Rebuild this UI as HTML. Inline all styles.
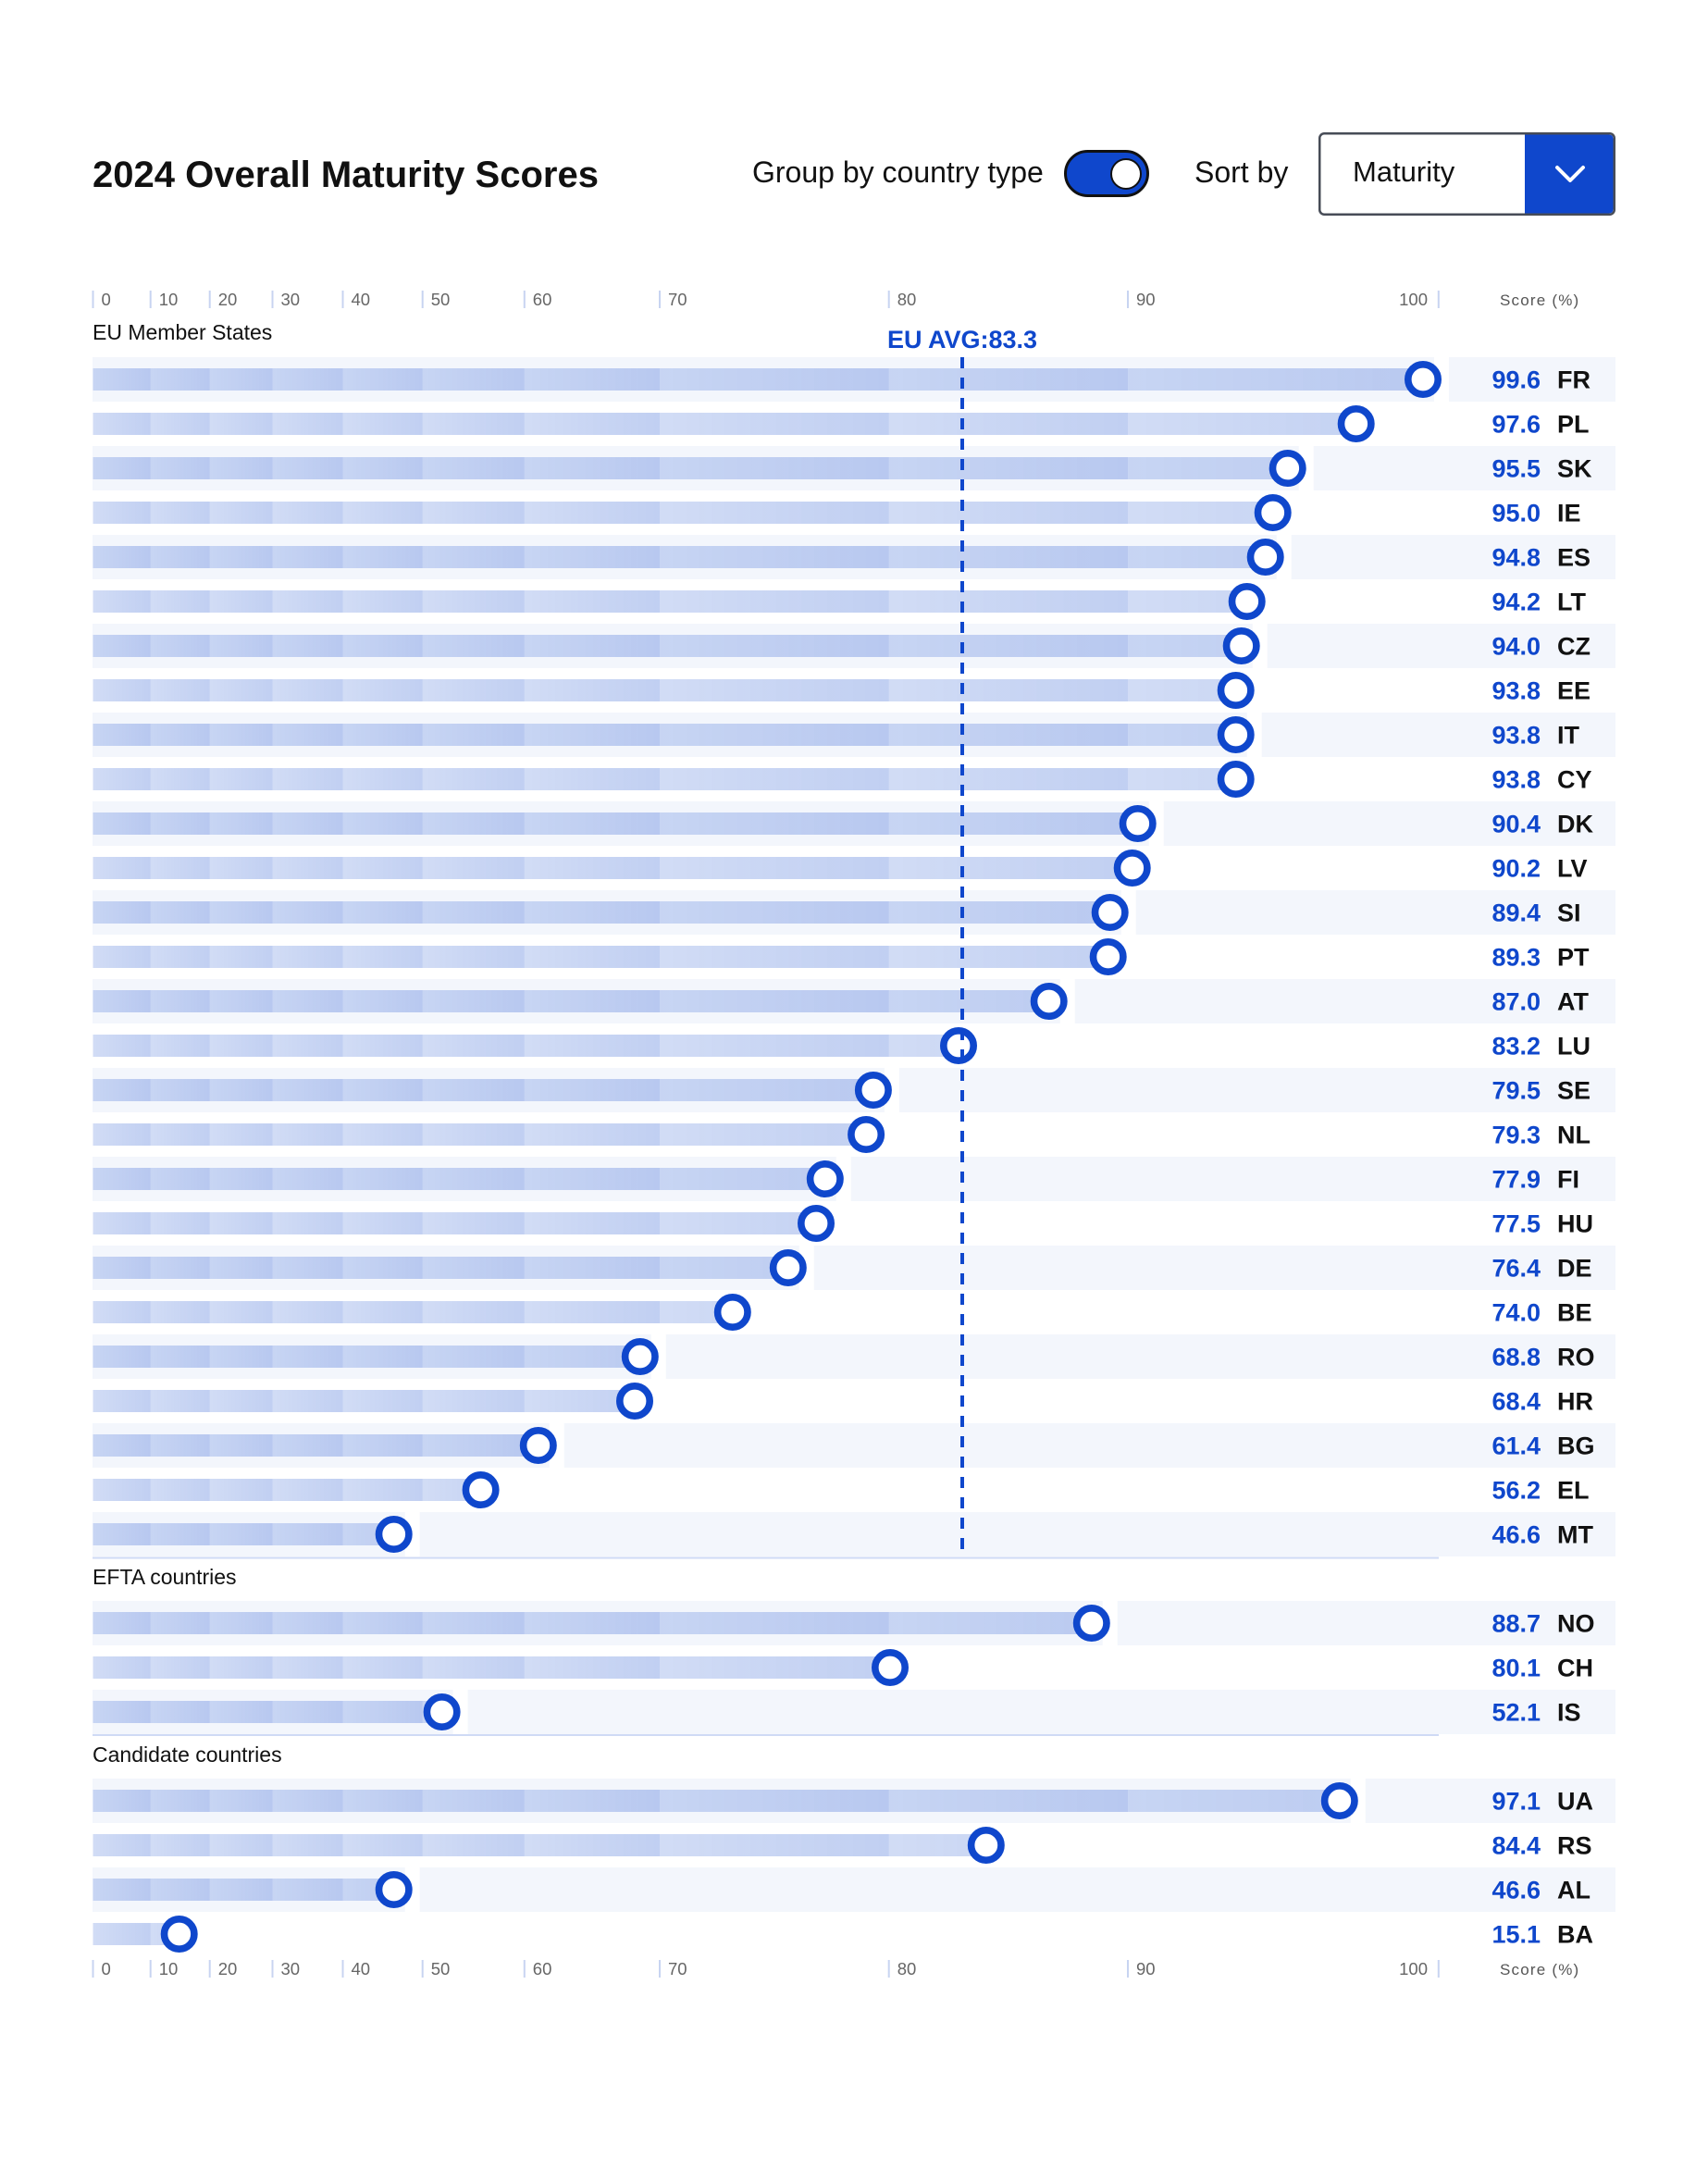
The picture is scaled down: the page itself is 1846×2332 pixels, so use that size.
<!DOCTYPE html>
<html>
<head>
<meta charset="utf-8">
<style>
  html,body{margin:0;padding:0;background:#fff;}
  svg{display:block;}
  text{font-family:"Liberation Sans", Arial, sans-serif;}
  .bg{fill:rgba(15,71,204,0.05);}
  .dot{fill:#fff;stroke:#0f47cc;stroke-width:7.6;}
  .v{font-size:27px;font-weight:bold;fill:#0f47cc;text-anchor:end;}
  .c{font-size:27px;font-weight:bold;fill:#111;}
  .tk{stroke:#c8d4f1;stroke-width:2;}
  .tl{font-size:18.5px;fill:#666;}
  .grp{font-size:23px;fill:#111;}
  .sc{font-size:17px;fill:#555;letter-spacing:1.2px;}
</style>
</head>
<body>
<svg width="1846" height="2332" viewBox="0 0 1846 2332" xmlns="http://www.w3.org/2000/svg">
<defs>
  <linearGradient id="sg" x1="0" y1="0" x2="1" y2="0">
    <stop offset="0" stop-color="rgb(15,71,204)" stop-opacity="0.19"/>
    <stop offset="1" stop-color="rgb(15,71,204)" stop-opacity="0.26"/>
  </linearGradient>
  <pattern id="bp" patternUnits="userSpaceOnUse" x="0" y="398" width="1846" height="48">
    <rect x="100.5" y="0" width="62.2" height="24" fill="url(#sg)"/>
    <rect x="162.7" y="0" width="64" height="24" fill="url(#sg)"/>
    <rect x="226.7" y="0" width="67.8" height="24" fill="url(#sg)"/>
    <rect x="294.5" y="0" width="76" height="24" fill="url(#sg)"/>
    <rect x="370.5" y="0" width="86.2" height="24" fill="url(#sg)"/>
    <rect x="456.7" y="0" width="110.1" height="24" fill="url(#sg)"/>
    <rect x="566.8" y="0" width="146.2" height="24" fill="url(#sg)"/>
    <rect x="713" y="0" width="247.7" height="24" fill="url(#sg)"/>
    <rect x="960.7" y="0" width="258.3" height="24" fill="url(#sg)"/>
    <rect x="1219" y="0" width="335.8" height="24" fill="url(#sg)"/>
  </pattern>
</defs>

<!-- Header -->
<text x="100" y="202" font-size="40" font-weight="bold" fill="#111">2024 Overall Maturity Scores</text>
<text x="813" y="197" font-size="32" fill="#111">Group by country type</text>
<rect x="1151.5" y="163.5" width="89" height="48" rx="24" ry="24" fill="#0f47cc" stroke="#111" stroke-width="3"/>
<circle cx="1217" cy="188" r="16" fill="#fff" stroke="#111" stroke-width="2"/>
<text x="1291" y="197" font-size="32" fill="#111">Sort by</text>
<rect x="1426.25" y="144.25" width="318.5" height="87.5" rx="5" ry="5" fill="#fff" stroke="#474c57" stroke-width="2.5"/>
<path d="M1648 145.5 H1739 Q1743.5 145.5 1743.5 150 V226 Q1743.5 230.5 1739 230.5 H1648 Z" fill="#0f47cc"/>
<polyline points="1683,181 1697,195 1711,181" fill="none" stroke="#fff" stroke-width="4" stroke-linecap="round" stroke-linejoin="round"/>
<text x="1462" y="196" font-size="31" fill="#111">Maturity</text>

<!-- Top axis -->
<g>
  <line class="tk" x1="100.5" y1="314" x2="100.5" y2="333"/>
  <line class="tk" x1="162.7" y1="314" x2="162.7" y2="333"/>
  <line class="tk" x1="226.7" y1="314" x2="226.7" y2="333"/>
  <line class="tk" x1="294.5" y1="314" x2="294.5" y2="333"/>
  <line class="tk" x1="370.5" y1="314" x2="370.5" y2="333"/>
  <line class="tk" x1="456.7" y1="314" x2="456.7" y2="333"/>
  <line class="tk" x1="566.8" y1="314" x2="566.8" y2="333"/>
  <line class="tk" x1="713" y1="314" x2="713" y2="333"/>
  <line class="tk" x1="960.7" y1="314" x2="960.7" y2="333"/>
  <line class="tk" x1="1219" y1="314" x2="1219" y2="333"/>
  <line class="tk" x1="1554.8" y1="314" x2="1554.8" y2="333"/>
  <text class="tl" x="109.5" y="330">0</text>
  <text class="tl" x="171.7" y="330">10</text>
  <text class="tl" x="235.7" y="330">20</text>
  <text class="tl" x="303.5" y="330">30</text>
  <text class="tl" x="379.5" y="330">40</text>
  <text class="tl" x="465.7" y="330">50</text>
  <text class="tl" x="575.8" y="330">60</text>
  <text class="tl" x="722" y="330">70</text>
  <text class="tl" x="969.7" y="330">80</text>
  <text class="tl" x="1228" y="330">90</text>
  <text class="tl" x="1543" y="330" text-anchor="end">100</text>
  <text class="sc" x="1621" y="330">Score (%)</text>
</g>

<!-- Bottom axis -->
<g>
  <line class="tk" x1="100.5" y1="2118" x2="100.5" y2="2137"/>
  <line class="tk" x1="162.7" y1="2118" x2="162.7" y2="2137"/>
  <line class="tk" x1="226.7" y1="2118" x2="226.7" y2="2137"/>
  <line class="tk" x1="294.5" y1="2118" x2="294.5" y2="2137"/>
  <line class="tk" x1="370.5" y1="2118" x2="370.5" y2="2137"/>
  <line class="tk" x1="456.7" y1="2118" x2="456.7" y2="2137"/>
  <line class="tk" x1="566.8" y1="2118" x2="566.8" y2="2137"/>
  <line class="tk" x1="713" y1="2118" x2="713" y2="2137"/>
  <line class="tk" x1="960.7" y1="2118" x2="960.7" y2="2137"/>
  <line class="tk" x1="1219" y1="2118" x2="1219" y2="2137"/>
  <line class="tk" x1="1554.8" y1="2118" x2="1554.8" y2="2137"/>
  <text class="tl" x="109.5" y="2134">0</text>
  <text class="tl" x="171.7" y="2134">10</text>
  <text class="tl" x="235.7" y="2134">20</text>
  <text class="tl" x="303.5" y="2134">30</text>
  <text class="tl" x="379.5" y="2134">40</text>
  <text class="tl" x="465.7" y="2134">50</text>
  <text class="tl" x="575.8" y="2134">60</text>
  <text class="tl" x="722" y="2134">70</text>
  <text class="tl" x="969.7" y="2134">80</text>
  <text class="tl" x="1228" y="2134">90</text>
  <text class="tl" x="1543" y="2134" text-anchor="end">100</text>
  <text class="sc" x="1621" y="2134">Score (%)</text>
</g>

<!-- Group labels -->
<text class="grp" x="100" y="367">EU Member States</text>
<text class="grp" x="100" y="1712">EFTA countries</text>
<text class="grp" x="100" y="1904">Candidate countries</text>
<text x="1040" y="376" font-size="27" font-weight="bold" fill="#0f47cc" text-anchor="middle">EU AVG:83.3</text>

<!-- Row backgrounds -->
<g>
  <rect class="bg" x="100" y="386" width="1450" height="48"/><rect class="bg" x="1566" y="386" width="180" height="48"/>
  <rect class="bg" x="100" y="482" width="1303.7" height="48"/><rect class="bg" x="1419.7" y="482" width="326.3" height="48"/>
  <rect class="bg" x="100" y="578" width="1279.7" height="48"/><rect class="bg" x="1395.7" y="578" width="350.3" height="48"/>
  <rect class="bg" x="100" y="674" width="1253.7" height="48"/><rect class="bg" x="1369.7" y="674" width="376.3" height="48"/>
  <rect class="bg" x="100" y="770" width="1247.7" height="48"/><rect class="bg" x="1363.7" y="770" width="382.3" height="48"/>
  <rect class="bg" x="100" y="866" width="1141.7" height="48"/><rect class="bg" x="1257.7" y="866" width="488.3" height="48"/>
  <rect class="bg" x="100" y="962" width="1111.7" height="48"/><rect class="bg" x="1227.7" y="962" width="518.3" height="48"/>
  <rect class="bg" x="100" y="1058" width="1045.7" height="48"/><rect class="bg" x="1161.7" y="1058" width="584.3" height="48"/>
  <rect class="bg" x="100" y="1154" width="855.9" height="48"/><rect class="bg" x="971.9" y="1154" width="774.1" height="48"/>
  <rect class="bg" x="100" y="1250" width="803.8" height="48"/><rect class="bg" x="919.8" y="1250" width="826.2" height="48"/>
  <rect class="bg" x="100" y="1346" width="763.8" height="48"/><rect class="bg" x="879.8" y="1346" width="866.2" height="48"/>
  <rect class="bg" x="100" y="1442" width="603.8" height="48"/><rect class="bg" x="719.8" y="1442" width="1026.2" height="48"/>
  <rect class="bg" x="100" y="1538" width="493.8" height="48"/><rect class="bg" x="609.8" y="1538" width="1136.2" height="48"/>
  <rect class="bg" x="100" y="1634" width="337.7" height="48"/><rect class="bg" x="453.7" y="1634" width="1292.3" height="48"/>
  <rect class="bg" x="100" y="1730" width="1091.8" height="48"/><rect class="bg" x="1207.8" y="1730" width="538.2" height="48"/>
  <rect class="bg" x="100" y="1826" width="389.6" height="48"/><rect class="bg" x="505.6" y="1826" width="1240.4" height="48"/>
  <rect class="bg" x="100" y="1922" width="1359.8" height="48"/><rect class="bg" x="1475.8" y="1922" width="270.2" height="48"/>
  <rect class="bg" x="100" y="2018" width="337.7" height="48"/><rect class="bg" x="453.7" y="2018" width="1292.3" height="48"/>
</g>

<!-- Separators -->
<line x1="100" y1="1683.5" x2="1555" y2="1683.5" stroke="rgba(15,71,204,0.2)" stroke-width="2"/>
<line x1="100" y1="1875" x2="1555" y2="1875" stroke="rgba(15,71,204,0.2)" stroke-width="2"/>

<!-- Bars -->
<g fill="url(#bp)">
  <rect x="100" y="398" width="1438" height="24"/>
  <rect x="100" y="446" width="1365.7" height="24"/>
  <rect x="100" y="494" width="1291.7" height="24"/>
  <rect x="100" y="542" width="1275.7" height="24"/>
  <rect x="100" y="590" width="1267.7" height="24"/>
  <rect x="100" y="638" width="1247.7" height="24"/>
  <rect x="100" y="686" width="1241.7" height="24"/>
  <rect x="100" y="734" width="1235.7" height="24"/>
  <rect x="100" y="782" width="1235.7" height="24"/>
  <rect x="100" y="830" width="1235.7" height="24"/>
  <rect x="100" y="878" width="1129.7" height="24"/>
  <rect x="100" y="926" width="1123.7" height="24"/>
  <rect x="100" y="974" width="1099.7" height="24"/>
  <rect x="100" y="1022" width="1097.7" height="24"/>
  <rect x="100" y="1070" width="1033.7" height="24"/>
  <rect x="100" y="1118" width="936" height="24"/>
  <rect x="100" y="1166" width="843.9" height="24"/>
  <rect x="100" y="1214" width="836.1" height="24"/>
  <rect x="100" y="1262" width="791.8" height="24"/>
  <rect x="100" y="1310" width="782" height="24"/>
  <rect x="100" y="1358" width="751.8" height="24"/>
  <rect x="100" y="1406" width="691.8" height="24"/>
  <rect x="100" y="1454" width="591.8" height="24"/>
  <rect x="100" y="1502" width="586" height="24"/>
  <rect x="100" y="1550" width="481.8" height="24"/>
  <rect x="100" y="1598" width="419.6" height="24"/>
  <rect x="100" y="1646" width="325.7" height="24"/>
  <rect x="100" y="1742" width="1079.8" height="24"/>
  <rect x="100" y="1790" width="862" height="24"/>
  <rect x="100" y="1838" width="377.6" height="24"/>
  <rect x="100" y="1934" width="1347.8" height="24"/>
  <rect x="100" y="1982" width="965.8" height="24"/>
  <rect x="100" y="2030" width="325.7" height="24"/>
  <rect x="100" y="2078" width="93.7" height="24"/>
</g>

<!-- Dots -->
<g>
  <circle class="dot" cx="1538" cy="410" r="16.2"/>
  <circle class="dot" cx="1465.7" cy="458" r="16.2"/>
  <circle class="dot" cx="1391.7" cy="506" r="16.2"/>
  <circle class="dot" cx="1375.7" cy="554" r="16.2"/>
  <circle class="dot" cx="1367.7" cy="602" r="16.2"/>
  <circle class="dot" cx="1347.7" cy="650" r="16.2"/>
  <circle class="dot" cx="1341.7" cy="698" r="16.2"/>
  <circle class="dot" cx="1335.7" cy="746" r="16.2"/>
  <circle class="dot" cx="1335.7" cy="794" r="16.2"/>
  <circle class="dot" cx="1335.7" cy="842" r="16.2"/>
  <circle class="dot" cx="1229.7" cy="890" r="16.2"/>
  <circle class="dot" cx="1223.7" cy="938" r="16.2"/>
  <circle class="dot" cx="1199.7" cy="986" r="16.2"/>
  <circle class="dot" cx="1197.7" cy="1034" r="16.2"/>
  <circle class="dot" cx="1133.7" cy="1082" r="16.2"/>
  <circle class="dot" cx="1036" cy="1130" r="16.2"/>
  <circle class="dot" cx="943.9" cy="1178" r="16.2"/>
  <circle class="dot" cx="936.1" cy="1226" r="16.2"/>
  <circle class="dot" cx="891.8" cy="1274" r="16.2"/>
  <circle class="dot" cx="882" cy="1322" r="16.2"/>
  <circle class="dot" cx="851.8" cy="1370" r="16.2"/>
  <circle class="dot" cx="791.8" cy="1418" r="16.2"/>
  <circle class="dot" cx="691.8" cy="1466" r="16.2"/>
  <circle class="dot" cx="686" cy="1514" r="16.2"/>
  <circle class="dot" cx="581.8" cy="1562" r="16.2"/>
  <circle class="dot" cx="519.6" cy="1610" r="16.2"/>
  <circle class="dot" cx="425.7" cy="1658" r="16.2"/>
  <circle class="dot" cx="1179.8" cy="1754" r="16.2"/>
  <circle class="dot" cx="962" cy="1802" r="16.2"/>
  <circle class="dot" cx="477.6" cy="1850" r="16.2"/>
  <circle class="dot" cx="1447.8" cy="1946" r="16.2"/>
  <circle class="dot" cx="1065.8" cy="1994" r="16.2"/>
  <circle class="dot" cx="425.7" cy="2042" r="16.2"/>
  <circle class="dot" cx="193.7" cy="2090" r="16.2"/>
</g>

<!-- EU average dashed line -->
<line x1="1040" y1="386" x2="1040" y2="1674" stroke="#0f47cc" stroke-width="4" stroke-dasharray="12 10"/>

<!-- Labels -->
<g>
  <text class="v" x="1665" y="419.5">99.6</text><text class="c" x="1683" y="419.5">FR</text>
  <text class="v" x="1665" y="467.5">97.6</text><text class="c" x="1683" y="467.5">PL</text>
  <text class="v" x="1665" y="515.5">95.5</text><text class="c" x="1683" y="515.5">SK</text>
  <text class="v" x="1665" y="563.5">95.0</text><text class="c" x="1683" y="563.5">IE</text>
  <text class="v" x="1665" y="611.5">94.8</text><text class="c" x="1683" y="611.5">ES</text>
  <text class="v" x="1665" y="659.5">94.2</text><text class="c" x="1683" y="659.5">LT</text>
  <text class="v" x="1665" y="707.5">94.0</text><text class="c" x="1683" y="707.5">CZ</text>
  <text class="v" x="1665" y="755.5">93.8</text><text class="c" x="1683" y="755.5">EE</text>
  <text class="v" x="1665" y="803.5">93.8</text><text class="c" x="1683" y="803.5">IT</text>
  <text class="v" x="1665" y="851.5">93.8</text><text class="c" x="1683" y="851.5">CY</text>
  <text class="v" x="1665" y="899.5">90.4</text><text class="c" x="1683" y="899.5">DK</text>
  <text class="v" x="1665" y="947.5">90.2</text><text class="c" x="1683" y="947.5">LV</text>
  <text class="v" x="1665" y="995.5">89.4</text><text class="c" x="1683" y="995.5">SI</text>
  <text class="v" x="1665" y="1043.5">89.3</text><text class="c" x="1683" y="1043.5">PT</text>
  <text class="v" x="1665" y="1091.5">87.0</text><text class="c" x="1683" y="1091.5">AT</text>
  <text class="v" x="1665" y="1139.5">83.2</text><text class="c" x="1683" y="1139.5">LU</text>
  <text class="v" x="1665" y="1187.5">79.5</text><text class="c" x="1683" y="1187.5">SE</text>
  <text class="v" x="1665" y="1235.5">79.3</text><text class="c" x="1683" y="1235.5">NL</text>
  <text class="v" x="1665" y="1283.5">77.9</text><text class="c" x="1683" y="1283.5">FI</text>
  <text class="v" x="1665" y="1331.5">77.5</text><text class="c" x="1683" y="1331.5">HU</text>
  <text class="v" x="1665" y="1379.5">76.4</text><text class="c" x="1683" y="1379.5">DE</text>
  <text class="v" x="1665" y="1427.5">74.0</text><text class="c" x="1683" y="1427.5">BE</text>
  <text class="v" x="1665" y="1475.5">68.8</text><text class="c" x="1683" y="1475.5">RO</text>
  <text class="v" x="1665" y="1523.5">68.4</text><text class="c" x="1683" y="1523.5">HR</text>
  <text class="v" x="1665" y="1571.5">61.4</text><text class="c" x="1683" y="1571.5">BG</text>
  <text class="v" x="1665" y="1619.5">56.2</text><text class="c" x="1683" y="1619.5">EL</text>
  <text class="v" x="1665" y="1667.5">46.6</text><text class="c" x="1683" y="1667.5">MT</text>
  <text class="v" x="1665" y="1763.5">88.7</text><text class="c" x="1683" y="1763.5">NO</text>
  <text class="v" x="1665" y="1811.5">80.1</text><text class="c" x="1683" y="1811.5">CH</text>
  <text class="v" x="1665" y="1859.5">52.1</text><text class="c" x="1683" y="1859.5">IS</text>
  <text class="v" x="1665" y="1955.5">97.1</text><text class="c" x="1683" y="1955.5">UA</text>
  <text class="v" x="1665" y="2003.5">84.4</text><text class="c" x="1683" y="2003.5">RS</text>
  <text class="v" x="1665" y="2051.5">46.6</text><text class="c" x="1683" y="2051.5">AL</text>
  <text class="v" x="1665" y="2099.5">15.1</text><text class="c" x="1683" y="2099.5">BA</text>
</g>
</svg>
</body>
</html>
